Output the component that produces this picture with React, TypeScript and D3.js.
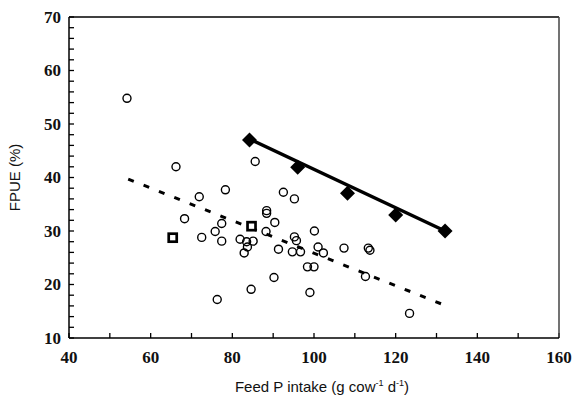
import React from "react";
import * as d3 from "d3";

const circleX = [54.2, 66.2, 85.6, 78.3, 71.9, 68.3, 72.5, 75.8, 77.4, 77.4, 76.3, 81.9, 82.9, 83.7, 83.5, 85.1, 84.6, 88.4, 88.4, 88.25, 90.4, 91.3, 90.2, 92.5, 95.2, 95.2, 95.7, 94.7, 96.7, 100.1, 101.0, 102.3, 98.4, 100.0, 99.0, 107.35, 113.3, 113.7, 112.6, 123.4];
const circleY = [54.8, 42.0, 43.0, 37.7, 36.4, 32.3, 28.8, 29.9, 31.4, 28.1, 17.2, 28.45, 25.9, 27.0, 28.0, 28.1, 19.1, 33.8, 33.3, 29.9, 31.6, 26.6, 21.3, 37.25, 36.0, 28.9, 28.2, 26.1, 26.1, 30.0, 27.0, 25.9, 23.3, 23.3, 18.5, 26.8, 26.8, 26.4, 21.5, 14.6];

const diamondX = [84.2, 96.0, 108.2, 120.0, 132.1];
const diamondY = [47.0, 41.9, 37.05, 33.0, 30.0];

const squareX = [65.4, 84.7];
const squareY = [28.75, 30.9];

const solidFitX = [84.2, 132.1];
const solidFitY = [47.2, 30.0];
const dashedFitX = [54.5, 131.1];
const dashedFitY = [39.7, 16.4];

const xTickLabels = [40, 60, 80, 100, 120, 140, 160];
const yTickLabels = [10, 20, 30, 40, 50, 60, 70];

const W = 574;
const H = 398;
const left = 69;
const right = 559;
const top = 17;
const bottom = 338;

export default function App() {
  const x = d3.scaleLinear().domain([40, 160]).range([left, right]);
  const y = d3.scaleLinear().domain([10, 70]).range([bottom, top]);
  const line = d3.line<[number, number]>().x((d) => x(d[0])).y((d) => y(d[1]));

  const xMinor = d3.range(40, 161, 10);
  const yMinor = d3.range(10, 71, 2);

  const solidPts: [number, number][] = solidFitX.map((v, i) => [v, solidFitY[i]]);
  const dashedPts: [number, number][] = dashedFitX.map((v, i) => [v, dashedFitY[i]]);

  const dLen = Math.hypot(x(dashedFitX[1]) - x(dashedFitX[0]), y(dashedFitY[1]) - y(dashedFitY[0]));
  const dashOn = 6;
  const nPeriods = Math.round((dLen - dashOn) / 16.5);
  const dashGap = (dLen - dashOn) / nPeriods - dashOn;

  const numFont = '"Liberation Serif", "Times New Roman", serif';
  const sansFont = '"Liberation Sans", Arial, sans-serif';

  return (
    <svg width={W} height={H} style={{ position: "absolute", left: 0, top: 0, background: "#fff" }}>
      {/* ticks */}
      {xMinor.map((v) => (
        <line key={"xt" + v} x1={x(v)} x2={x(v)} y1={bottom} y2={bottom - 5} stroke="#000" strokeWidth={1.3} />
      ))}
      {yMinor.map((v) => (
        <line key={"yt" + v} x1={left} x2={left + 5} y1={y(v)} y2={y(v)} stroke="#000" strokeWidth={1.3} />
      ))}
      {/* frame */}
      <line x1={left} x2={right} y1={top} y2={top} stroke="#000" strokeWidth={1.5} />
      <line x1={right} x2={right} y1={top} y2={bottom} stroke="#444" strokeWidth={1.5} />
      <line x1={left} x2={left} y1={top} y2={bottom} stroke="#000" strokeWidth={1.5} />
      <line x1={left} x2={right} y1={bottom} y2={bottom} stroke="#000" strokeWidth={1.5} />

      {/* tick labels */}
      {xTickLabels.map((v) => (
        <text key={"xl" + v} x={x(v)} y={363} textAnchor="middle" fontFamily={numFont} fontWeight="bold" fontSize={17} fill="#111">
          {v}
        </text>
      ))}
      {yTickLabels.map((v) => (
        <text key={"yl" + v} x={61} y={y(v)} dy="0.35em" textAnchor="end" fontFamily={numFont} fontWeight="bold" fontSize={17} fill="#111">
          {v}
        </text>
      ))}

      {/* axis titles */}
      <text x={322} y={392} textAnchor="middle" fontFamily={sansFont} fontSize={15} fill="#111">
        Feed P intake (g cow
        <tspan fontSize={9} dy={-6}>-1</tspan>
        <tspan dy={6}> d</tspan>
        <tspan fontSize={9} dy={-6}>-1</tspan>
        <tspan dy={6}>)</tspan>
      </text>
      <text transform={`translate(20, ${(top + bottom) / 2}) rotate(-90)`} textAnchor="middle" fontFamily={sansFont} fontSize={15} fill="#111">
        FPUE (%)
      </text>

      {/* fit lines */}
      <path d={line(dashedPts) || ""} fill="none" stroke="#000" strokeWidth={3} strokeDasharray={`${dashOn},${dashGap}`} />
      <path d={line(solidPts) || ""} fill="none" stroke="#000" strokeWidth={3.5} />

      {/* circles */}
      {circleX.map((v, i) => (
        <circle key={"c" + i} cx={x(v)} cy={y(circleY[i])} r={4} fill="none" stroke="#000" strokeWidth={1.4} />
      ))}

      {/* squares */}
      {squareX.map((v, i) => (
        <rect key={"s" + i} x={x(v) - 4} y={y(squareY[i]) - 4} width={8} height={8} fill="#fff" stroke="#000" strokeWidth={2.7} />
      ))}

      {/* diamonds */}
      {diamondX.map((v, i) => {
        const cx = x(v);
        const cy = y(diamondY[i]);
        const r = 7.5;
        return <path key={"d" + i} d={`M${cx},${cy - r}L${cx + r},${cy}L${cx},${cy + r}L${cx - r},${cy}Z`} fill="#000" />;
      })}
    </svg>
  );
}
